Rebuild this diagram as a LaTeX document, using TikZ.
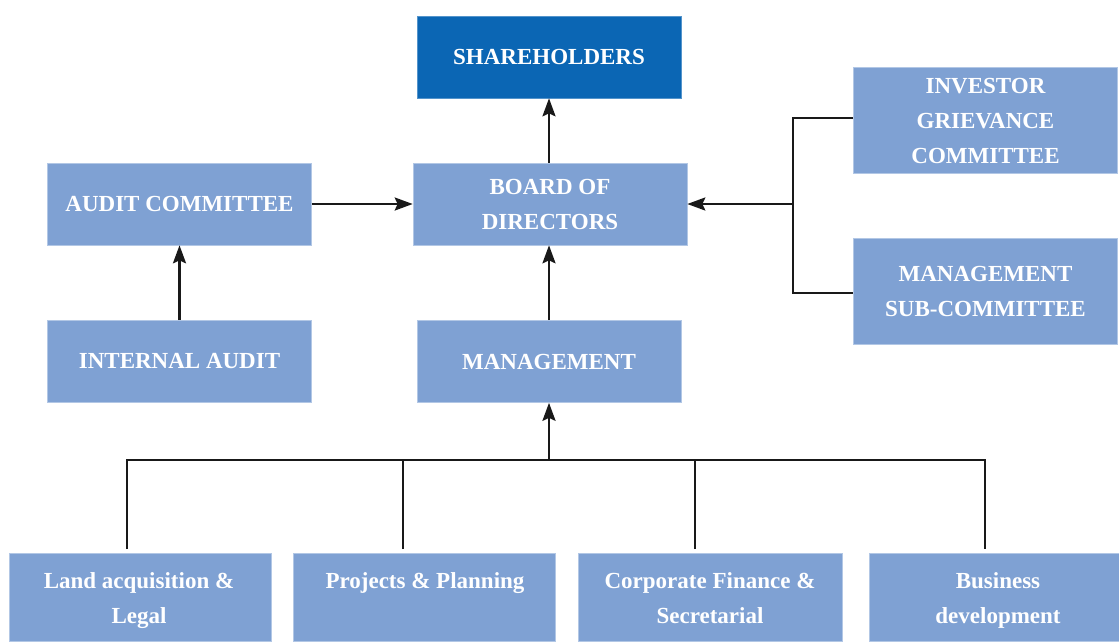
\documentclass[tikz,border=0pt]{standalone}
\usepackage{fontspec}
\setmainfont{Liberation Serif}
\usetikzlibrary{arrows.meta}
\definecolor{boxblue}{HTML}{7FA1D3}
\definecolor{darkblue}{HTML}{0B66B4}
\tikzset{
  orgbox/.style={rectangle, fill=boxblue, draw=boxblue!60!white, line width=0.6pt, inner sep=0pt,
    minimum width=264pt, minimum height=82pt, text=white, align=center,
    font=\fontsize{23}{35}\selectfont\bfseries},
  topbox/.style={orgbox, fill=darkblue, draw=darkblue!70!white},
  arr/.style={line width=2.6pt, -{Stealth[length=18pt,width=13pt,inset=3pt]}, draw=black!90},
  link/.style={line width=2.2pt, draw=black!90},
  lbl/.style={text=white, anchor=base, inner sep=0pt, font=\fontsize{23}{35}\selectfont\bfseries}
}
\begin{document}
\begin{tikzpicture}[x=1pt,y=-1pt]
\useasboundingbox (0,0) rectangle (1119,641);
% boxes
\node[topbox] (sh) at (549,57) {SHAREHOLDERS};
\node[orgbox, minimum width=274pt] (bod) at (550,204) {BOARD OF\\DIRECTORS};
\node[orgbox] (ac) at (179.5,204) {AUDIT COMMITTEE};
\node[orgbox] (ia) at (179.5,361.5) {INTERNAL AUDIT};
\node[orgbox] (mg) at (549,361.5) {MANAGEMENT};
\node[orgbox, minimum height=106pt] (igc) at (985.5,120.5) {INVESTOR\\GRIEVANCE\\COMMITTEE};
\node[orgbox, minimum height=106pt] (msc) at (985.5,291.5) {MANAGEMENT\\SUB-COMMITTEE};
\node[orgbox, minimum width=262pt, minimum height=88pt] (b1) at (140,597) {};
\node[orgbox, minimum width=262pt, minimum height=88pt] (b2) at (424.5,597) {};
\node[orgbox, minimum width=264pt, minimum height=88pt] (b3) at (710,597) {};
\node[orgbox, minimum width=250pt, minimum height=88pt] (b4) at (994,597) {};
\node[lbl] (t1a) at (139,588) {Land acquisition \&};
\node[lbl] (t1b) at (139,623) {Legal};
\node[lbl] (t2a) at (425,588) {Projects \& Planning};
\node[lbl] (t3a) at (710,588) {Corporate Finance \&};
\node[lbl] (t3b) at (710,623) {Secretarial};
\node[lbl] (t4a) at (998,588) {Business};
\node[lbl] (t4b) at (998,623) {development};
% connectors
\draw[arr] (bod.north -| sh.south) -- (sh.south);
\draw[arr] (mg.north) -- (mg.north |- bod.south);
\draw[arr] (ac.east) -- (bod.west);
\draw[arr] (ia.north) -- (ac.south);
\coordinate (jr) at (793,204);
\coordinate (jt) at (793,118);
\coordinate (jb) at (793,293);
\draw[link] (igc.west |- jt) -- (jt) -- (jb) -- (msc.west |- jb);
\draw[arr] (jr) -- (bod.east);
% bottom bus
\coordinate (bus) at (549,460);
\coordinate (d1) at (127,549);
\coordinate (d2) at (403,549);
\coordinate (d3) at (695,549);
\coordinate (d4) at (985,549);
\draw[link] (d1) -- (d1 |- bus) -- (d4 |- bus) -- (d4);
\draw[link] (d2) -- (d2 |- bus);
\draw[link] (d3) -- (d3 |- bus);
\draw[arr] (bus) -- (mg.south);
\end{tikzpicture}
\end{document}
